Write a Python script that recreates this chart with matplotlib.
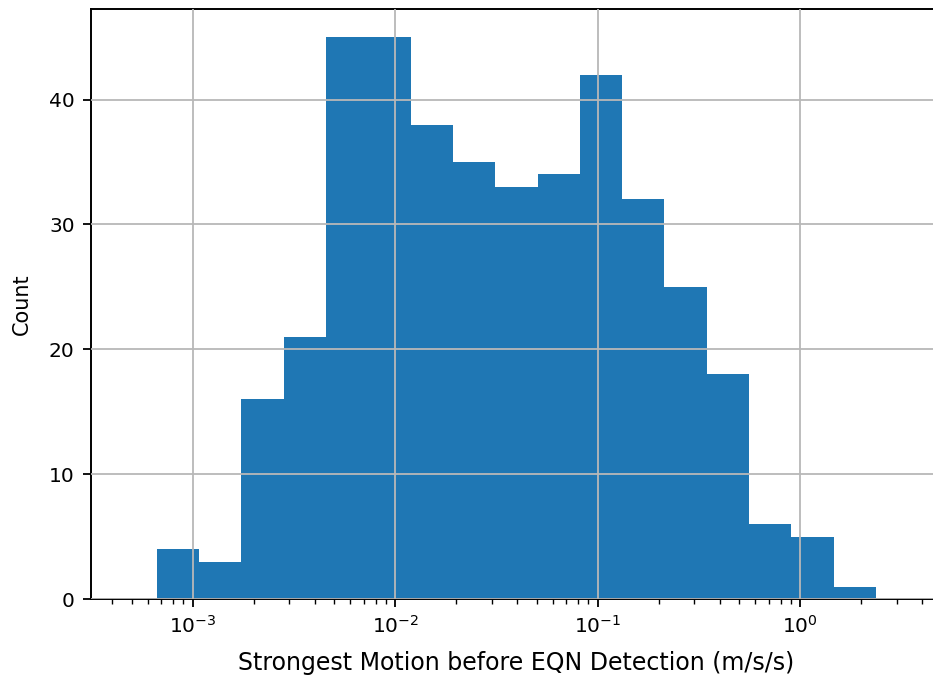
import matplotlib
matplotlib.use("Agg")
import matplotlib.pyplot as plt
import numpy as np

# histogram counts per log-spaced bin
COUNTS = [4, 3, 16, 21, 45, 45, 38, 35, 33, 34, 42, 32, 25, 18, 6, 5, 1]
# bin edge exponents (log10 of m/s/s)
EDGE_LO_EXP = -3.178
EDGE_HI_EXP = 0.375

XLABEL = "Strongest Motion before EQN Detection (m/s/s)"
YLABEL = "Count"

TICK_FS = 14.5
XLABEL_FS = 17
YLABEL_FS = 15


def main():
    edges = np.logspace(EDGE_LO_EXP, EDGE_HI_EXP, len(COUNTS) + 1)

    fig = plt.figure(figsize=(9.33, 6.79), dpi=100)
    ax = fig.add_axes([0.0972, 0.1178, 0.9125, 0.8689])

    ax.hist(edges[:-1], bins=edges, weights=COUNTS, color="#1f77b4")

    ax.set_xscale("log")
    ax.set_xlim(10 ** -3.504, 10 ** 0.701)
    ax.set_ylim(0, 47.25)
    ax.set_yticks([0, 10, 20, 30, 40])

    ax.set_xlabel(XLABEL, fontsize=XLABEL_FS, labelpad=10)
    ax.set_ylabel(YLABEL, fontsize=YLABEL_FS, labelpad=12)
    ax.tick_params(axis="both", which="major", labelsize=TICK_FS,
                   length=5.5, width=1.3, pad=6)
    ax.tick_params(axis="x", which="minor", length=3.5, width=1.0)
    ax.grid(True, which="major", color="#b8b8b8", linewidth=1.3)
    ax.set_axisbelow(False)
    for s in ax.spines.values():
        s.set_linewidth(1.4)

    fig.savefig("out.png", dpi=100)
    plt.close(fig)


if __name__ == "__main__":
    main()
